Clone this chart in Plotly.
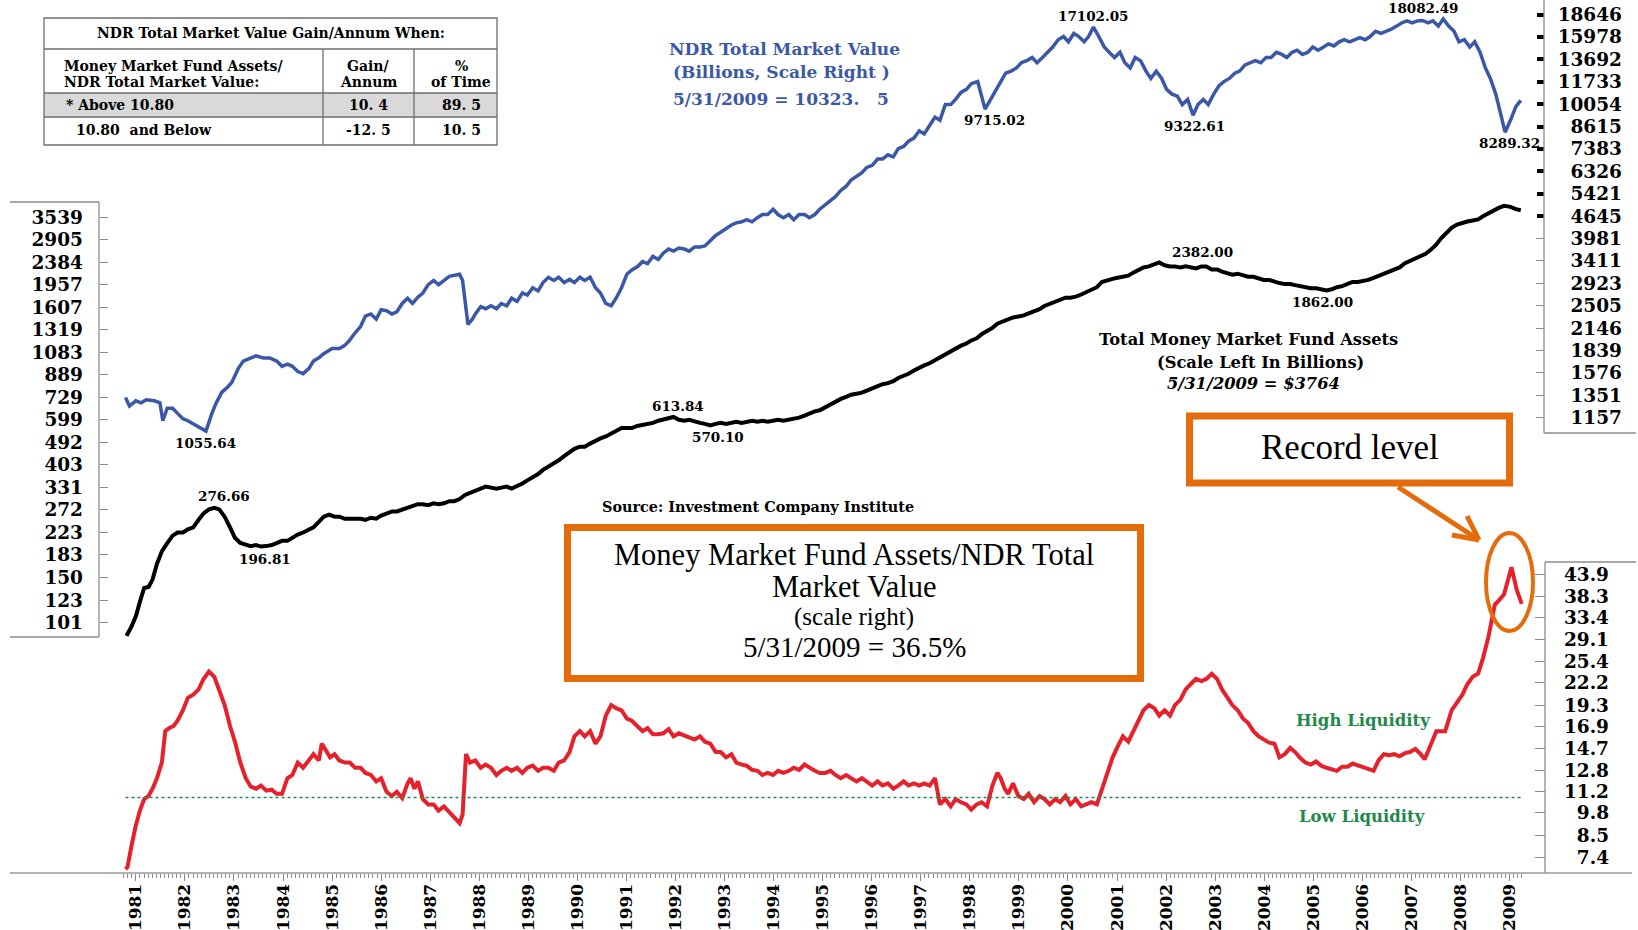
import math
import plotly.graph_objects as go

W, H = 1638, 930

# ---------------- data ----------------
# NDR Total Market Value, billions (scale right, top)
ndr_pts = [
    (1980.79, 1330), (1980.87, 1255), (1981.00, 1301), (1981.11, 1283), (1981.21, 1311), (1981.38, 1301),
    (1981.49, 1283), (1981.55, 1134), (1981.64, 1236), (1981.75, 1236), (1981.85, 1193), (1981.96, 1150),
    (1982.06, 1134), (1982.17, 1110), (1982.28, 1086), (1982.43, 1055.64), (1982.55, 1193), (1982.64, 1283),
    (1982.75, 1379), (1982.87, 1429), (1982.96, 1481),
    (1983.09, 1627), (1983.19, 1711), (1983.34, 1749), (1983.45, 1774), (1983.60, 1749), (1983.73, 1749),
    (1983.87, 1711), (1983.98, 1650),
    (1984.09, 1675), (1984.19, 1650), (1984.30, 1592), (1984.41, 1569), (1984.53, 1627), (1984.62, 1711),
    (1984.73, 1749), (1984.83, 1800),
    (1985.00, 1866), (1985.15, 1866), (1985.26, 1907), (1985.36, 1977), (1985.47, 2079), (1985.58, 2171),
    (1985.68, 2334), (1985.79, 2368), (1985.90, 2284),
    (1986.00, 2437), (1986.11, 2420), (1986.22, 2368), (1986.32, 2402), (1986.43, 2545), (1986.54, 2639),
    (1986.64, 2545), (1986.75, 2658), (1986.85, 2736), (1986.96, 2898),
    (1987.07, 2982), (1987.17, 2898), (1987.28, 2982), (1987.39, 3070), (1987.60, 3114), (1987.66, 2982),
    (1987.77, 2202), (1987.86, 2284), (1987.92, 2368),
    (1988.03, 2491), (1988.13, 2455), (1988.24, 2505), (1988.35, 2455), (1988.45, 2545), (1988.56, 2505),
    (1988.66, 2639), (1988.77, 2582), (1988.88, 2736), (1988.98, 2696),
    (1989.09, 2836), (1989.20, 2775), (1989.30, 2940), (1989.41, 3048), (1989.52, 2982), (1989.62, 3048),
    (1989.73, 2940), (1989.84, 3004), (1989.94, 2940),
    (1990.05, 3048), (1990.15, 2982), (1990.26, 3048), (1990.37, 2836), (1990.47, 2736), (1990.58, 2545),
    (1990.69, 2505), (1990.79, 2639), (1990.90, 2836),
    (1991.01, 3114), (1991.11, 3206), (1991.22, 3276), (1991.33, 3396), (1991.43, 3348), (1991.54, 3521),
    (1991.65, 3446), (1991.75, 3599), (1991.86, 3704), (1991.96, 3651),
    (1992.07, 3731), (1992.18, 3704), (1992.28, 3651), (1992.39, 3758), (1992.50, 3758), (1992.60, 3785),
    (1992.71, 3924), (1992.82, 4068), (1992.92, 4157),
    (1993.03, 4279), (1993.14, 4372), (1993.24, 4436), (1993.35, 4468), (1993.45, 4533), (1993.56, 4468),
    (1993.67, 4598), (1993.77, 4699), (1993.88, 4699), (1993.99, 4873),
    (1994.09, 4699), (1994.20, 4598), (1994.31, 4699), (1994.41, 4533), (1994.52, 4699), (1994.63, 4699),
    (1994.73, 4598), (1994.84, 4699), (1994.94, 4873),
    (1995.05, 5015), (1995.16, 5162), (1995.26, 5312), (1995.37, 5547), (1995.48, 5711), (1995.58, 5963),
    (1995.69, 6137), (1995.80, 6272), (1995.90, 6502),
    (1996.01, 6596), (1996.12, 6889), (1996.22, 6889), (1996.33, 7091), (1996.44, 6990), (1996.54, 7404),
    (1996.65, 7512), (1996.75, 7789), (1996.86, 7959), (1996.97, 8370),
    (1997.07, 8191), (1997.18, 8677), (1997.29, 9196), (1997.39, 8998), (1997.50, 10025), (1997.61, 10025),
    (1997.71, 10390), (1997.82, 10902), (1997.93, 11139),
    (1998.03, 11581), (1998.16, 11750), (1998.31, 9715.02), (1998.42, 10390), (1998.50, 10902),
    (1998.63, 11750), (1998.73, 12448), (1998.84, 12630), (1998.95, 12906),
    (1999.05, 13382), (1999.16, 13574), (1999.27, 13871), (1999.37, 13382), (1999.48, 13871), (1999.59, 14380),
    (1999.69, 14906), (1999.80, 15681), (1999.91, 16024),
    (2000.01, 15457), (2000.12, 16374), (2000.22, 16024), (2000.33, 15457), (2000.42, 16024),
    (2000.52, 17102.05), (2000.63, 16024), (2000.74, 14906), (2000.84, 14380), (2000.95, 13871),
    (2001.06, 14380), (2001.16, 13382), (2001.27, 12906), (2001.37, 13871), (2001.48, 13574), (2001.59, 12630),
    (2001.69, 12006), (2001.80, 12630), (2001.91, 12006),
    (2002.01, 11139), (2002.12, 10777), (2002.23, 10622), (2002.33, 10025), (2002.44, 10390),
    (2002.55, 9322.61), (2002.65, 10025), (2002.76, 10390), (2002.86, 10025), (2002.97, 10777),
    (2003.08, 11417), (2003.18, 11750), (2003.29, 12006), (2003.40, 12448), (2003.50, 12630), (2003.61, 13188),
    (2003.72, 13382), (2003.82, 13574), (2003.93, 13382),
    (2004.04, 13871), (2004.14, 13871), (2004.25, 14380), (2004.36, 14171), (2004.46, 13871), (2004.57, 14380),
    (2004.67, 14585), (2004.78, 14171), (2004.89, 14380), (2004.99, 14906),
    (2005.10, 14585), (2005.21, 14906), (2005.31, 15236), (2005.42, 15018), (2005.53, 15457), (2005.63, 15681),
    (2005.74, 15457), (2005.85, 15681), (2005.95, 15909),
    (2006.06, 15681), (2006.16, 16024), (2006.27, 16616), (2006.38, 16378), (2006.48, 16616), (2006.59, 16857),
    (2006.70, 17225), (2006.80, 17602), (2006.91, 17857),
    (2007.02, 17602), (2007.12, 17857), (2007.23, 17900), (2007.34, 17602), (2007.44, 17857), (2007.55, 17225),
    (2007.65, 18082.49), (2007.76, 17225), (2007.87, 16616), (2007.97, 15457),
    (2008.08, 15681), (2008.19, 14906), (2008.29, 15457), (2008.40, 14380), (2008.51, 12906), (2008.61, 12006),
    (2008.72, 10777), (2008.83, 9279), (2008.91, 8289.32),
    (2009.02, 8998), (2009.13, 9883), (2009.23, 10323.5),
]

# Total Money Market Fund Assets, billions (scale left)
mmf_pts = [
    (1980.79, 92.0), (1980.83, 91.3), (1980.91, 97.4), (1981.00, 106.7), (1981.09, 122.4), (1981.17, 136.9),
    (1981.26, 138.1), (1981.34, 147.3), (1981.43, 169.0), (1981.53, 188.8), (1981.64, 203.0), (1981.75, 216.6),
    (1981.85, 222.6), (1981.96, 222.6),
    (1982.06, 228.8), (1982.17, 233.0), (1982.28, 248.9), (1982.38, 263.0), (1982.49, 272.8), (1982.60, 276.66),
    (1982.70, 272.8), (1982.81, 255.8), (1982.92, 233.0),
    (1983.02, 212.6), (1983.13, 203.0), (1983.24, 199.4), (1983.34, 197.6), (1983.45, 199.4), (1983.55, 196.81),
    (1983.66, 197.6), (1983.77, 199.4), (1983.87, 203.0), (1983.98, 206.9),
    (1984.09, 206.9), (1984.19, 212.6), (1984.30, 218.6), (1984.41, 222.6), (1984.51, 226.7), (1984.62, 233.0),
    (1984.73, 244.4), (1984.83, 255.8), (1984.94, 260.5),
    (1985.05, 255.8), (1985.15, 255.8), (1985.26, 251.2), (1985.36, 251.2), (1985.47, 251.2), (1985.58, 251.2),
    (1985.68, 248.9), (1985.79, 253.5), (1985.90, 251.2),
    (1986.00, 258.2), (1986.11, 263.0), (1986.22, 267.8), (1986.32, 267.8), (1986.43, 272.8), (1986.54, 275.3),
    (1986.64, 280.4), (1986.75, 285.5), (1986.85, 285.5), (1986.96, 283.0),
    (1987.07, 287.7), (1987.17, 285.5), (1987.28, 287.7), (1987.39, 293.1), (1987.49, 293.1), (1987.60, 298.5),
    (1987.71, 309.6), (1987.81, 315.3), (1987.92, 321.1),
    (1988.03, 330.1), (1988.13, 333.1), (1988.24, 330.1), (1988.35, 327.1), (1988.45, 330.1), (1988.56, 333.1),
    (1988.66, 327.1), (1988.77, 333.1), (1988.88, 342.4), (1988.98, 351.9),
    (1989.09, 361.7), (1989.20, 371.8), (1989.30, 385.7), (1989.41, 396.4), (1989.52, 407.4), (1989.62, 419.6),
    (1989.73, 435.2), (1989.84, 451.4), (1989.94, 464.0),
    (1990.05, 472.6), (1990.15, 472.6), (1990.26, 485.8), (1990.37, 499.3), (1990.47, 508.5), (1990.58, 517.4),
    (1990.69, 531.8), (1990.79, 546.6), (1990.90, 556.7),
    (1991.01, 556.7), (1991.11, 556.7), (1991.22, 567.0), (1991.33, 572.2), (1991.43, 577.4), (1991.54, 582.8),
    (1991.65, 593.6), (1991.75, 599.0), (1991.86, 604.5), (1991.96, 613.84),
    (1992.07, 599.0), (1992.18, 593.6), (1992.28, 599.0), (1992.39, 588.2), (1992.50, 582.8), (1992.60, 577.4),
    (1992.71, 570.10), (1992.82, 577.4), (1992.92, 582.8),
    (1993.03, 577.4), (1993.14, 582.8), (1993.24, 588.2), (1993.35, 582.8), (1993.45, 588.2), (1993.56, 593.6),
    (1993.67, 588.2), (1993.77, 593.6), (1993.88, 588.2), (1993.99, 593.6),
    (1994.09, 599.0), (1994.20, 593.6), (1994.31, 599.0), (1994.41, 604.5), (1994.52, 610.1), (1994.63, 621.3),
    (1994.73, 632.8), (1994.84, 644.6), (1994.94, 650.5),
    (1995.05, 668.7), (1995.16, 680.6), (1995.26, 699.6), (1995.37, 719.1), (1995.48, 732.4), (1995.58, 745.9),
    (1995.69, 752.8), (1995.80, 759.7), (1995.90, 773.7),
    (1996.01, 788.5), (1996.12, 803.1), (1996.22, 818.0), (1996.33, 825.4), (1996.44, 840.7), (1996.54, 864.1),
    (1996.65, 880.1), (1996.75, 896.4), (1996.86, 921.9), (1996.97, 947.5),
    (1997.07, 965.1), (1997.18, 982.8), (1997.29, 1010.0), (1997.39, 1029.0), (1997.50, 1057.6), (1997.61, 1087.0),
    (1997.71, 1117.0), (1997.82, 1147.5), (1997.93, 1168.9),
    (1998.03, 1201.4), (1998.14, 1223.6), (1998.24, 1269.3), (1998.35, 1304.6), (1998.46, 1340.9),
    (1998.56, 1390.5), (1998.67, 1416.2), (1998.78, 1455.6), (1998.88, 1469.1), (1998.99, 1482.6),
    (1999.10, 1496.3), (1999.20, 1523.9), (1999.31, 1552.0), (1999.42, 1580.6), (1999.52, 1624.8),
    (1999.63, 1655.2), (1999.74, 1701.2), (1999.84, 1716.9), (1999.95, 1748.6),
    (2000.05, 1748.6), (2000.16, 1764.6), (2000.27, 1797.1), (2000.37, 1830.6), (2000.48, 1864.2),
    (2000.59, 1916.3), (2000.69, 2005.9), (2000.80, 2043.3), (2000.91, 2062.1),
    (2001.01, 2081.1), (2001.12, 2100.3), (2001.23, 2119.6), (2001.33, 2177.5), (2001.44, 2238.1),
    (2001.54, 2279.3), (2001.65, 2300.3), (2001.76, 2343.0), (2001.86, 2382.00), (2001.97, 2323.4),
    (2002.08, 2300.3), (2002.18, 2300.3), (2002.29, 2279.3), (2002.40, 2300.0), (2002.50, 2279.0),
    (2002.61, 2258.6), (2002.72, 2300.0), (2002.82, 2300.0), (2002.93, 2238.0),
    (2003.04, 2238.0), (2003.14, 2197.6), (2003.25, 2157.5), (2003.35, 2137.7), (2003.46, 2157.5),
    (2003.57, 2119.6), (2003.67, 2100.3), (2003.78, 2100.3), (2003.89, 2062.1), (2003.99, 2043.3),
    (2004.10, 2043.3), (2004.21, 2005.9), (2004.31, 1987.7), (2004.42, 1969.5), (2004.53, 1969.5),
    (2004.63, 1951.6), (2004.74, 1933.8), (2004.84, 1916.3), (2004.95, 1898.8),
    (2005.06, 1898.8), (2005.16, 1881.6), (2005.27, 1862.00), (2005.38, 1881.6), (2005.48, 1916.3),
    (2005.59, 1933.8), (2005.70, 1969.5), (2005.80, 2005.9), (2005.91, 2005.9),
    (2006.02, 2024.5), (2006.12, 2043.3), (2006.23, 2081.1), (2006.33, 2119.6), (2006.44, 2157.5),
    (2006.55, 2197.6), (2006.65, 2238.1), (2006.76, 2279.3), (2006.87, 2364.4), (2006.97, 2408.0),
    (2007.08, 2475.6), (2007.19, 2521.6), (2007.29, 2568.5), (2007.40, 2665.3), (2007.51, 2790.3),
    (2007.61, 2948.0), (2007.72, 3113.3), (2007.82, 3229.3), (2007.93, 3319.6),
    (2008.04, 3380.8), (2008.14, 3411.6), (2008.25, 3443.1), (2008.36, 3474.9), (2008.46, 3571.6),
    (2008.57, 3671.0), (2008.70, 3773.3), (2008.78, 3843.4), (2008.89, 3914.6),
    (2009.02, 3878.7), (2009.13, 3800.0), (2009.23, 3764.0),
]

# Money Market Fund Assets / NDR Total Market Value, % (scale right, bottom)
ratio_pts = [
    (1980.79, 6.88), (1980.83, 6.97), (1980.91, 7.95), (1981.00, 9.07), (1981.09, 10.01), (1981.17, 10.69),
    (1981.26, 10.90), (1981.34, 11.41), (1981.43, 12.19), (1981.53, 13.45), (1981.60, 16.39), (1981.68, 16.71),
    (1981.77, 16.93), (1981.85, 17.50), (1981.96, 18.69),
    (1982.06, 20.22), (1982.17, 20.62), (1982.28, 21.31), (1982.38, 22.76), (1982.49, 23.83), (1982.60, 23.06),
    (1982.70, 21.31), (1982.81, 19.31), (1982.92, 16.93),
    (1983.02, 15.34), (1983.13, 13.45), (1983.24, 12.19), (1983.34, 11.57), (1983.45, 11.41), (1983.55, 11.64),
    (1983.66, 11.27), (1983.77, 11.34), (1983.87, 11.05), (1983.98, 11.05),
    (1984.09, 12.19), (1984.19, 12.44), (1984.30, 13.45), (1984.41, 13.02), (1984.51, 13.63), (1984.62, 14.18),
    (1984.73, 13.63), (1984.79, 15.15), (1984.87, 14.56), (1984.96, 13.90),
    (1985.05, 14.18), (1985.15, 13.63), (1985.26, 13.45), (1985.36, 13.45), (1985.47, 13.02), (1985.58, 13.02),
    (1985.68, 12.60), (1985.79, 12.44), (1985.90, 11.95),
    (1986.00, 12.19), (1986.11, 11.19), (1986.22, 10.90), (1986.32, 11.19), (1986.43, 10.76), (1986.54, 11.80),
    (1986.60, 12.19), (1986.68, 11.41), (1986.75, 11.95), (1986.85, 10.69), (1986.96, 10.34),
    (1987.07, 10.34), (1987.17, 9.94), (1987.28, 10.21), (1987.39, 9.82), (1987.49, 9.50), (1987.60, 9.19),
    (1987.66, 9.69), (1987.73, 14.18), (1987.81, 13.45), (1987.92, 13.63),
    (1988.03, 13.02), (1988.13, 13.28), (1988.24, 13.02), (1988.35, 12.44), (1988.45, 12.77), (1988.56, 13.02),
    (1988.66, 12.77), (1988.77, 13.02), (1988.88, 12.60), (1988.98, 13.02),
    (1989.09, 13.19), (1989.20, 12.77), (1989.30, 13.02), (1989.41, 13.02), (1989.52, 12.77), (1989.62, 13.45),
    (1989.73, 13.63), (1989.84, 14.37), (1989.94, 15.86),
    (1990.05, 16.39), (1990.15, 15.86), (1990.26, 16.39), (1990.37, 15.15), (1990.47, 15.86), (1990.58, 18.08),
    (1990.69, 19.31), (1990.79, 18.93), (1990.90, 18.69),
    (1991.01, 17.73), (1991.11, 17.50), (1991.22, 16.93), (1991.33, 16.39), (1991.43, 16.71), (1991.54, 16.07),
    (1991.65, 16.07), (1991.75, 16.17), (1991.86, 16.60), (1991.96, 15.86),
    (1992.07, 16.17), (1992.18, 15.96), (1992.28, 15.75), (1992.39, 15.55), (1992.50, 15.86), (1992.60, 15.34),
    (1992.71, 15.15), (1992.82, 14.37), (1992.92, 14.37),
    (1993.03, 13.90), (1993.14, 14.18), (1993.24, 13.45), (1993.35, 13.28), (1993.45, 13.19), (1993.56, 12.85),
    (1993.67, 12.77), (1993.77, 12.44), (1993.88, 12.60), (1993.99, 12.44),
    (1994.09, 12.77), (1994.20, 12.60), (1994.31, 12.77), (1994.41, 13.02), (1994.52, 12.85), (1994.63, 13.28),
    (1994.73, 13.02), (1994.84, 12.77), (1994.94, 12.60),
    (1995.05, 12.60), (1995.16, 12.77), (1995.26, 12.44), (1995.37, 12.19), (1995.48, 12.44), (1995.58, 12.19),
    (1995.69, 11.95), (1995.80, 12.19), (1995.90, 11.95),
    (1996.01, 11.64), (1996.12, 11.95), (1996.22, 11.64), (1996.33, 11.80), (1996.44, 11.41), (1996.54, 11.64),
    (1996.65, 11.95), (1996.75, 11.64), (1996.86, 11.80), (1996.97, 11.64),
    (1997.07, 11.80), (1997.18, 11.64), (1997.29, 12.19), (1997.39, 10.34), (1997.50, 10.69), (1997.61, 10.21),
    (1997.71, 10.69), (1997.82, 10.48), (1997.93, 10.34),
    (1998.03, 10.01), (1998.14, 10.34), (1998.24, 10.48), (1998.35, 10.21), (1998.46, 11.64), (1998.56, 12.60),
    (1998.63, 12.19), (1998.71, 11.41), (1998.78, 11.05), (1998.88, 11.80), (1998.99, 10.90),
    (1999.10, 10.69), (1999.20, 11.05), (1999.31, 10.48), (1999.42, 10.90), (1999.52, 10.69), (1999.63, 10.34),
    (1999.74, 10.69), (1999.84, 10.48), (1999.95, 10.90),
    (2000.05, 10.34), (2000.16, 10.69), (2000.27, 10.21), (2000.37, 10.34), (2000.48, 10.48), (2000.59, 10.34),
    (2000.69, 11.41), (2000.80, 12.60), (2000.91, 13.90),
    (2001.01, 14.85), (2001.12, 15.86), (2001.23, 15.34), (2001.33, 16.39), (2001.44, 17.50), (2001.54, 18.69),
    (2001.65, 19.31), (2001.76, 18.93), (2001.86, 18.08), (2001.97, 18.69),
    (2002.08, 18.08), (2002.18, 19.31), (2002.29, 19.96), (2002.40, 21.31), (2002.50, 22.02), (2002.61, 22.76),
    (2002.72, 22.46), (2002.82, 22.76), (2002.93, 23.52),
    (2003.04, 22.76), (2003.14, 21.31), (2003.25, 20.22), (2003.35, 19.31), (2003.46, 18.69), (2003.57, 17.73),
    (2003.67, 17.27), (2003.78, 16.39), (2003.89, 15.86), (2003.99, 15.55),
    (2004.10, 15.24), (2004.21, 15.15), (2004.31, 13.90), (2004.42, 14.18), (2004.53, 14.75), (2004.63, 14.37),
    (2004.74, 13.81), (2004.84, 13.45), (2004.95, 13.28),
    (2005.06, 13.54), (2005.16, 13.19), (2005.27, 13.02), (2005.38, 12.85), (2005.48, 12.77), (2005.59, 13.10),
    (2005.70, 13.10), (2005.80, 13.37), (2005.91, 13.19),
    (2006.02, 13.10), (2006.12, 12.93), (2006.23, 12.77), (2006.33, 13.63), (2006.44, 14.18), (2006.55, 14.09),
    (2006.65, 14.18), (2006.76, 13.99), (2006.87, 14.27), (2006.97, 14.37),
    (2007.08, 14.65), (2007.19, 14.18), (2007.27, 13.72), (2007.40, 15.15), (2007.51, 16.39), (2007.61, 16.39),
    (2007.69, 16.39), (2007.82, 18.69), (2007.93, 19.70),
    (2008.04, 20.62), (2008.14, 22.02), (2008.25, 23.06), (2008.36, 23.52), (2008.46, 25.95), (2008.57, 29.60),
    (2008.70, 36.28), (2008.78, 37.25), (2008.89, 38.75),
    (2009.04, 45.97), (2009.15, 39.78), (2009.25, 36.5),
]

ndr_x = [p[0] for p in ndr_pts]
ndr_v = [p[1] for p in ndr_pts]
mmf_x = [p[0] for p in mmf_pts]
mmf_v = [p[1] for p in mmf_pts]
ratio_x = [p[0] for p in ratio_pts]
ratio_v = [p[1] for p in ratio_pts]

year_ticks = list(range(1981, 2010))
left_ticks = [3539, 2905, 2384, 1957, 1607, 1319, 1083, 889, 729, 599, 492, 403, 331, 272, 223, 183, 150, 123, 101]
right_top_ticks = [18646, 15978, 13692, 11733, 10054, 8615, 7383, 6326, 5421, 4645,
                   3981, 3411, 2923, 2505, 2146, 1839, 1576, 1351, 1157]
right_bot_ticks = [43.9, 38.3, 33.4, 29.1, 25.4, 22.2, 19.3, 16.9, 14.7, 12.8, 11.2, 9.8, 8.5, 7.4]
liquidity_threshold = 10.80

ndr_extremes = [1055.64, 9715.02, 17102.05, 9322.61, 18082.49, 8289.32]
mmf_extremes = [276.66, 196.81, 613.84, 570.10, 2382.00, 1862.00]

table_title = "NDR Total Market Value Gain/Annum When:"
table_header = [("Money Market Fund Assets/", "NDR Total Market Value:"), ("Gain/", "Annum"), ("%", "of Time")]
table_rows = [("* Above 10.80", "10. 4", "89. 5"), ("10.80  and Below", "-12. 5", "10. 5")]

# ---------------- styling helpers ----------------
BLUE = "#3B58A6"
RED = "#E5222B"
ORANGE = "#E46C0A"
GREEN = "#23894A"
GRAY = "#8C8C8C"
SERIF = "DejaVu Serif"
TIMES = "Liberation Serif"


def px(x):
    return x / W


def py(y):
    return 1 - y / H


def log_range(v_ref, px_ref, px_per_decade):
    lv = math.log10(v_ref)
    return [lv - (H - px_ref) / px_per_decade, lv + px_ref / px_per_decade]


left_range = log_range(3539, 217.3, 262.4)
blue_range = log_range(18646, 14.6, 334.0)
red_range = log_range(43.9, 574.5, 366.1)

fig = go.Figure()
fig.add_trace(go.Scatter(x=mmf_x, y=mmf_v, mode="lines", name="Total Money Market Fund Assets",
                         line=dict(color="black", width=4), xaxis="x", yaxis="y"))
fig.add_trace(go.Scatter(x=ndr_x, y=ndr_v, mode="lines", name="NDR Total Market Value",
                         line=dict(color=BLUE, width=3.5), xaxis="x", yaxis="y2"))
fig.add_trace(go.Scatter(x=[ratio_x[0], ratio_x[-1]], y=[liquidity_threshold] * 2, mode="lines",
                         name="10.80", line=dict(color=GREEN, width=1.6, dash="dot"), xaxis="x", yaxis="y6"))
fig.add_trace(go.Scatter(x=ratio_x, y=ratio_v, mode="lines", name="MMF Assets / NDR Total Market Value",
                         line=dict(color=RED, width=4), xaxis="x", yaxis="y3"))
# empty traces so tick-only overlay axes are drawn
fig.add_trace(go.Scatter(x=[], y=[], xaxis="x", yaxis="y4", showlegend=False))
fig.add_trace(go.Scatter(x=[], y=[], xaxis="x", yaxis="y5", showlegend=False))

tickfont = dict(family=SERIF, size=18.5, color="black", weight="bold")
common = dict(showgrid=False, zeroline=False, showline=False, fixedrange=True, tickmode="array")

fig.update_layout(
    width=W, height=H, autosize=False,
    margin=dict(l=0, r=0, t=0, b=0),
    paper_bgcolor="white", plot_bgcolor="white", showlegend=False,
    xaxis=dict(domain=[px(122.1), px(1524.2)], range=[1980.72, 2009.30], anchor="free", position=py(873),
               tickvals=year_ticks, ticktext=[str(y) for y in year_ticks], ticks="outside", ticklen=7,
               tickwidth=1, tickcolor=GRAY, tickangle=-90, ticklabelstandoff=-4,
               tickfont=dict(family=SERIF, size=17, color="black", weight="bold"),
               minor=dict(ticks="outside", ticklen=4, tickcolor=GRAY, tick0=1981, dtick=1 / 12, showgrid=False),
               **common),
    yaxis=dict(type="log", range=left_range, domain=[0, 1], anchor="free", position=px(99), side="left",
               tickvals=left_ticks, ticktext=[str(t) for t in left_ticks], ticks="inside", ticklen=8,
               tickcolor=GRAY, tickfont=tickfont, ticklabelstandoff=16, **common),
    yaxis2=dict(type="log", range=blue_range, overlaying="y", anchor="free", position=px(1625), side="right",
                tickvals=right_top_ticks, ticktext=[str(t) for t in right_top_ticks], ticks="",
                ticklabelposition="inside", ticklabeloverflow="allow", tickfont=tickfont, **common),
    yaxis3=dict(type="log", range=red_range, overlaying="y", anchor="free", position=px(1612), side="right",
                tickvals=right_bot_ticks, ticktext=[f"{t:.1f}" for t in right_bot_ticks], ticks="",
                ticklabelposition="inside", ticklabeloverflow="allow", tickfont=tickfont, **common),
    yaxis4=dict(type="log", range=blue_range, overlaying="y", anchor="free", position=px(1544), side="right",
                tickvals=right_top_ticks[10:], ticks="inside", ticklen=8, tickcolor=GRAY,
                showticklabels=False, **common),
    yaxis5=dict(type="log", range=blue_range, overlaying="y", anchor="free", position=px(1544), side="right",
                tickvals=right_top_ticks[:10], ticks="inside", ticklen=7, tickwidth=3.5, tickcolor="black",
                showticklabels=False, **common),
    yaxis6=dict(type="log", range=red_range, overlaying="y", anchor="free", position=px(1545), side="right",
                tickvals=right_bot_ticks, ticks="inside", ticklen=10, tickcolor=GRAY,
                showticklabels=False, **common),
)

# ---------------- shapes ----------------
shapes = []


def line(x0, y0, x1, y1, color=GRAY, width=1.3):
    shapes.append(dict(type="line", xref="paper", yref="paper", x0=px(x0), y0=py(y0), x1=px(x1), y1=py(y1),
                       line=dict(color=color, width=width)))


def rect(x0, y0, x1, y1, color, width, fill="rgba(0,0,0,0)"):
    shapes.append(dict(type="rect", xref="paper", yref="paper", x0=px(x0), y0=py(y0), x1=px(x1), y1=py(y1),
                       line=dict(color=color, width=width), fillcolor=fill))


# table
rect(44, 93, 497, 117, "rgba(0,0,0,0)", 0, fill="#D9D9D9")
rect(44, 18, 497, 145, "#6E6E6E", 1.3)
line(44, 49, 497, 49, "#6E6E6E")
line(44, 93, 497, 93, "#6E6E6E")
line(44, 117, 497, 117, "#6E6E6E")
line(323, 49, 323, 145, "#6E6E6E")
line(414, 49, 414, 145, "#6E6E6E")
# axis frames
line(10, 202, 99, 202)
line(99, 202, 99, 637)
line(10, 637, 99, 637)
line(1544, 0, 1544, 433)
line(1544, 433, 1636, 433)
line(1545, 562, 1636, 562)
line(1545, 562, 1545, 873)
line(10, 873, 1632, 873, "#9A9A9A")
# callouts
rect(567.5, 527.5, 1140.5, 678.5, ORANGE, 7, fill="white")
rect(1189.5, 416, 1509.5, 483, ORANGE, 7, fill="white")
shapes.append(dict(type="circle", xref="paper", yref="paper", x0=px(1486), y0=py(533), x1=px(1533), y1=py(631),
                   line=dict(color=ORANGE, width=4)))
line(1398, 487, 1479, 540, ORANGE, 5)
line(1479, 540, 1452, 535, ORANGE, 5)
line(1479, 540, 1467, 516, ORANGE, 5)
fig.update_layout(shapes=shapes)

# ---------------- annotations ----------------
ann = []


def text(x, y, s, size, color="black", family=SERIF, weight="bold", xanchor="center", style="normal"):
    ann.append(dict(x=px(x), y=py(y), xref="paper", yref="paper", text=s, showarrow=False,
                    xanchor=xanchor, yanchor="middle",
                    font=dict(family=family, size=size, color=color, weight=weight, style=style)))


# table text
TS = 14
text(270.5, 33.5, table_title, TS)
text(62, 66, table_header[0][0], TS, xanchor="left")
text(62, 81.5, table_header[0][1], TS, xanchor="left")
text(368, 66, table_header[1][0], TS)
text(368, 81.5, table_header[1][1], TS)
text(461, 66, table_header[2][0], TS)
text(461, 81.5, table_header[2][1], TS)
text(64, 105.5, table_rows[0][0], TS, xanchor="left")
text(368, 105.5, table_rows[0][1], TS)
text(461, 105.5, table_rows[0][2], TS)
text(74, 130, table_rows[1][0], TS, xanchor="left")
text(368, 130, table_rows[1][1], TS)
text(461, 130, table_rows[1][2], TS)

# series titles
text(784, 49, "NDR Total Market Value", 17, color=BLUE)
text(781, 72, "(Billions, Scale Right )", 17, color=BLUE)
text(781, 99, "5/31/2009 = 10323.   5", 17, color=BLUE)
text(1248, 339.5, "Total Money Market Fund Assets", 16.3)
text(1260, 362.5, "(Scale Left In Billions)", 16.3)
text(1253, 383.5, "5/31/2009 = $3764", 16.3, style="italic")
text(758, 506.5, "Source: Investment Company Institute", 14.4)
text(1363, 720, "High Liquidity", 16.5, color=GREEN)
text(1362, 816, "Low Liquidity", 16.5, color=GREEN)

# orange callouts
text(854, 555, "Money Market Fund Assets/NDR Total", 30.5, family=TIMES, weight="normal")
text(854, 587, "Market Value", 30.5, family=TIMES, weight="normal")
text(854, 617, "(scale right)", 25, family=TIMES, weight="normal")
text(854, 647, "5/31/2009 = 36.5%", 29, family=TIMES, weight="normal")
text(1350, 447, "Record level", 35, family=TIMES, weight="normal")

# value labels at turning points
ndr_label_pos = {1055.64: ("top", 0, -2), 9715.02: ("top", 9, -1), 17102.05: ("bottom", 0, 1),
                 9322.61: ("top", 1, -1), 18082.49: ("bottom", -20, 1), 8289.32: ("top", 4, -1)}
mmf_label_pos = {276.66: ("bottom", 10, 2), 196.81: ("top", 4, -2), 613.84: ("bottom", 4, 1),
                 570.10: ("top", 8, -2), 2382.00: ("bottom", 43, 0), 1862.00: ("top", -4, -2)}

for v in ndr_extremes:
    i = ndr_v.index(v)
    ya, xs, ys = ndr_label_pos[v]
    ann.append(dict(x=ndr_x[i], y=math.log10(v), xref="x", yref="y2", text=f"{v:.2f}", showarrow=False,
                    xanchor="center", yanchor=ya, xshift=xs, yshift=ys,
                    font=dict(family=SERIF, size=13.5, color="black", weight="bold")))
for v in mmf_extremes:
    i = mmf_v.index(v)
    ya, xs, ys = mmf_label_pos[v]
    ann.append(dict(x=mmf_x[i], y=math.log10(v), xref="x", yref="y", text=f"{v:.2f}", showarrow=False,
                    xanchor="center", yanchor=ya, xshift=xs, yshift=ys,
                    font=dict(family=SERIF, size=13.5, color="black", weight="bold")))

fig.update_layout(annotations=ann)

fig.write_html("out.html", config={"displayModeBar": False},
               post_script="document.body.style.margin='0';")
